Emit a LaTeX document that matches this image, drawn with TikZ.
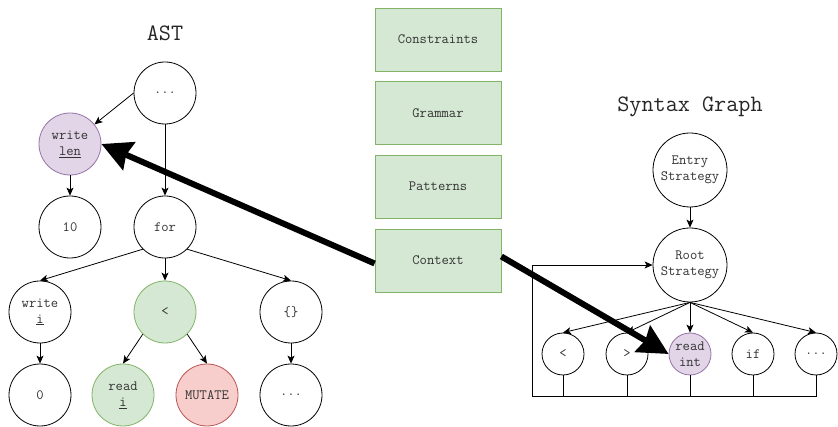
\documentclass[tikz,border=0pt]{standalone}
\usepackage{fontspec}
\usetikzlibrary{arrows.meta}
\definecolor{pfill}{HTML}{E1D5E7}
\definecolor{pdraw}{HTML}{9673A6}
\definecolor{gfill}{HTML}{D5E8D4}
\definecolor{gdraw}{HTML}{82B366}
\definecolor{rfill}{HTML}{F8CECC}
\definecolor{rdraw}{HTML}{B85450}
\begin{document}
\begin{tikzpicture}[x=1pt,y=-1pt,
  font=\ttfamily\fontsize{14.2}{16}\selectfont,
  circ/.style={circle,draw=black,line width=0.8pt,minimum size=62pt,inner sep=0pt,text=black!80,align=center},
  bigc/.style={circ,minimum size=74pt},
  smallc/.style={circ,minimum size=42pt},
  purp/.style={fill=pfill,draw=pdraw},
  grn/.style={fill=gfill,draw=gdraw},
  redn/.style={fill=rfill,draw=rdraw},
  box/.style={rectangle,fill=gfill,draw=gdraw,line width=0.8pt,minimum width=126pt,minimum height=63pt,text=black!80},
  title/.style={font=\ttfamily\fontsize{23.5}{26}\selectfont,text=black!85},
  edge/.style={line width=0.8pt,-{Stealth[length=8pt,width=7pt,inset=2pt]}},
  plain/.style={line width=0.8pt},
  thick arrow/.style={line width=6pt,-{Stealth[length=30pt,width=30pt,inset=3pt]}}]
\useasboundingbox (0,0) rectangle (838,427);
% AST
\node[title] (asttitle) at (165,33) {AST};
\node[circ] (top) at (165,93) {...};
\node[circ,purp] (wl) at (70,144) {write\\\underline{len}};
\node[circ] (ten) at (70,227) {10};
\node[circ] (for) at (165,227) {for};
\node[circ] (wi) at (40,312) {write\\\underline{i}};
\node[circ,grn] (lt) at (165,312) {<};
\node[circ] (br) at (291,312) {\{\}};
\node[circ] (zero) at (40,395) {0};
\node[circ,grn] (ri) at (123,395) {read\\\underline{i}};
\node[circ,redn] (mut) at (207,395) {MUTATE};
\node[circ] (dots) at (291,395) {...};
\draw[edge] (top.west) -- (wl);
\draw[edge] (top.south) -- (for.north);
\draw[edge] (wl.south) -- (ten.north);
\draw[edge] (for.-135) -- (wi.north);
\draw[edge] (for.south) -- (lt.north);
\draw[edge] (for.-45) -- (br.north);
\draw[edge] (wi.south) -- (zero.north);
\draw[edge] (lt.-135) -- (ri.north);
\draw[edge] (lt.-45) -- (mut.north);
\draw[edge] (br.south) -- (dots.north);
% middle boxes
\node[box] (cons) at (438,39.5) {Constraints};
\node[box] (gram) at (438,113) {Grammar};
\node[box] (pat) at (438,186.5) {Patterns};
\node[box] (ctx) at (438,260.5) {Context};
% Syntax graph
\node[title] (sgtitle) at (690,107) {Syntax Graph};
\node[bigc] (entry) at (690,170) {Entry\\Strategy};
\node[bigc] (root) at (690,265) {Root\\Strategy};
\node[smallc] (c1) at (563,354) {<};
\node[smallc] (c2) at (627,354) {>};
\node[smallc,purp] (c3) at (690,354) {read\\int};
\node[smallc] (c4) at (753,354) {if};
\node[smallc] (c5) at (816,354) {...};
\coordinate (fbL) at (532,396);
\draw[edge] (entry.south) -- (root.north);
\foreach \c in {c1,c2,c3,c4,c5} {
  \draw[edge] (root.south) -- (\c.north);
}
\foreach \c in {c1,c2,c3,c4} {
  \draw[plain] (\c.south) -- (\c.south |- fbL);
}
\draw[edge] (c5.south) |- (fbL) |- (root.west);
% thick arrows
\draw[thick arrow] ([yshift=-3pt]ctx.west) -- (wl.east);
\draw[thick arrow] ([yshift=4pt]ctx.east) -- (c3.west);
\end{tikzpicture}
\end{document}
